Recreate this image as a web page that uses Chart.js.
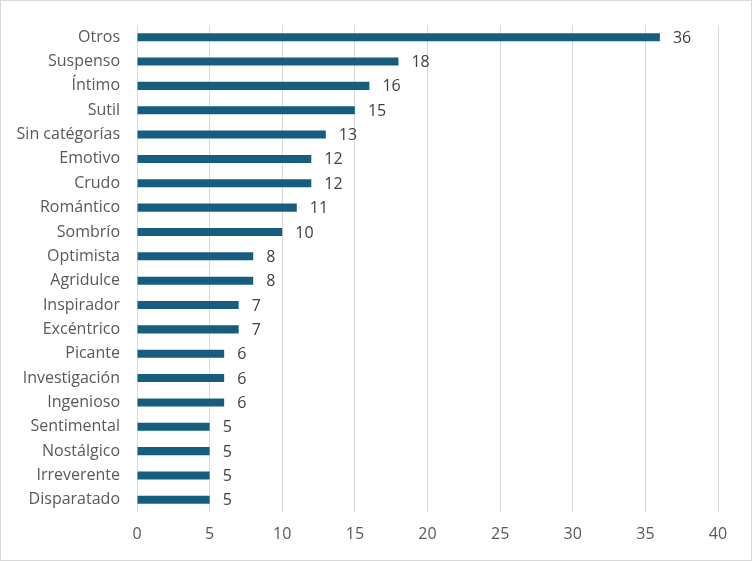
<!DOCTYPE html>
<html>
<head>
<meta charset="utf-8">
<script src="https://cdn.jsdelivr.net/npm/chart.js@4/dist/chart.umd.min.js"></script>
<style>
html,body{margin:0;padding:0;background:#fff;}
#wrap{position:relative;width:752px;height:561px;box-sizing:border-box;border:1px solid #d9d9d9;}
canvas{display:block;}
</style>
</head>
<body>
<div id="wrap"><canvas id="c" width="750" height="559"></canvas></div>
<script>
const categories = ["Otros","Suspenso","Íntimo","Sutil","Sin catégorías","Emotivo","Crudo","Romántico","Sombrío","Optimista","Agridulce","Inspirador","Excéntrico","Picante","Investigación","Ingenioso","Sentimental","Nostálgico","Irreverente","Disparatado"];
const values = [36,18,16,15,13,12,12,11,10,8,8,7,7,6,6,6,5,5,5,5];
const xTicks = [0,5,10,15,20,25,30,35,40];

const FONT = "'Open Sans', 'Noto Sans', sans-serif";

const dataLabels = {
  id: 'dataLabels',
  afterDatasetsDraw(chart) {
    const ctx = chart.ctx;
    const meta = chart.getDatasetMeta(0);
    ctx.save();
    ctx.fillStyle = '#404040';
    ctx.font = '16px ' + FONT;
    ctx.textAlign = 'left';
    ctx.textBaseline = 'middle';
    meta.data.forEach((bar, i) => {
      ctx.fillText(String(values[i]), bar.x + 13, bar.y + 1);
    });
    ctx.restore();
  }
};

new Chart(document.getElementById('c'), {
  type: 'bar',
  data: {
    labels: categories,
    datasets: [{
      data: values,
      backgroundColor: '#175e7e',
      borderWidth: 0,
      categoryPercentage: 0.66,
      barPercentage: 0.5
    }]
  },
  options: {
    indexAxis: 'y',
    responsive: false,
    animation: false,
    devicePixelRatio: 1,
    layout: { padding: { top: 24, right: 33, left: 0, bottom: 0 } },
    plugins: { legend: { display: false }, tooltip: { enabled: false } },
    scales: {
      x: {
        min: 0, max: 40,
        afterBuildTicks(scale) { scale.ticks = xTicks.map(v => ({ value: v })); },
        afterFit(scale) { scale.height = 48; scale.paddingLeft = 0; scale.paddingRight = 0; },
        grid: { color: '#d9d9d9', lineWidth: 1, drawTicks: false },
        border: { display: false },
        ticks: { color: '#595959', font: { size: 16, family: FONT }, padding: 13 }
      },
      y: {
        afterFit(scale) { scale.width = 136; scale.paddingTop = 0; scale.paddingBottom = 0; },
        grid: { display: false, drawTicks: false },
        border: { display: false },
        ticks: { color: '#595959', font: { size: 16, family: FONT }, padding: 17, autoSkip: false }
      }
    }
  },
  plugins: [dataLabels]
});
</script>
</body>
</html>
